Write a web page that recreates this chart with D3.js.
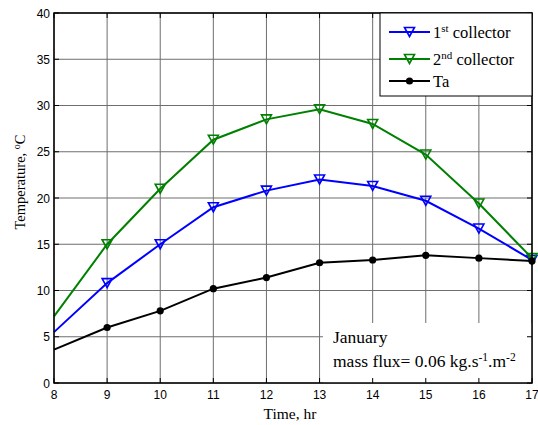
<!DOCTYPE html>
<html><head><meta charset="utf-8">
<script src="https://cdn.jsdelivr.net/npm/d3@7"></script>
<style>body{margin:0;background:#fff}svg{display:block}</style>
</head><body>
<script>
const hours = [8,9,10,11,12,13,14,15,16,17];
const collector1 = [5.5,10.8,15.0,19.0,20.8,22.0,21.3,19.7,16.7,13.3];
const collector2 = [7.2,15.0,21.0,26.3,28.5,29.6,28.0,24.7,19.4,13.5];
const ta = [3.6,6.0,7.8,10.2,11.4,13.0,13.3,13.8,13.5,13.2];
const xTicks = [8,9,10,11,12,13,14,15,16,17];
const yTicks = [0,5,10,15,20,25,30,35,40];

const W=538,H=425;
const m={l:54,r:6,t:13,b:42};
const svg=d3.select("body").append("svg").attr("width",W).attr("height",H);
const x=d3.scaleLinear().domain([8,17]).range([m.l,W-m.r]);
const y=d3.scaleLinear().domain([0,40]).range([H-m.b,m.t]);
const x0=x(8),x1=x(17),y0=y(0),y1=y(40);

svg.append("rect").attr("x",x0).attr("y",y1).attr("width",x1-x0).attr("height",y0-y1).attr("fill","#fff");
const grid=svg.append("g").attr("stroke","#6e6e6e").attr("stroke-width",1);
xTicks.forEach(t=>grid.append("line").attr("x1",x(t)).attr("x2",x(t)).attr("y1",y0).attr("y2",y1));
yTicks.forEach(t=>grid.append("line").attr("x1",x0).attr("x2",x1).attr("y1",y(t)).attr("y2",y(t)));

// annotation box (white, covers grid)
svg.append("rect").attr("x",323).attr("y",323).attr("width",x1-323).attr("height",y0-323).attr("fill","#fff");

const series=[
 {name:"1st",vals:collector1,color:"#0000ff",marker:"tri"},
 {name:"2nd",vals:collector2,color:"#008000",marker:"tri"},
 {name:"Ta",vals:ta,color:"#000",marker:"dot"}
];
const line=d3.line().x((d,i)=>x(hours[i])).y(d=>y(d));
const tri=(g,cx,cy,c)=>g.append("path").attr("d",`M${cx-5},${cy-4.5}L${cx+5},${cy-4.5}L${cx},${cy+4.5}Z`).attr("fill","none").attr("stroke",c).attr("stroke-width",1.6);
const dot=(g,cx,cy,c)=>g.append("circle").attr("cx",cx).attr("cy",cy).attr("r",3.6).attr("fill",c);
series.forEach(s=>{
  svg.append("path").attr("d",line(s.vals)).attr("fill","none").attr("stroke",s.color).attr("stroke-width",2);
  const g=svg.append("g");
  s.vals.forEach((v,i)=>{ if(i===0) return;
    if(s.marker==="tri") tri(g,x(hours[i]),y(v),s.color); else dot(g,x(hours[i]),y(v),s.color);});
});

// axes box and ticks
const ax=svg.append("g").attr("stroke","#000");
ax.append("rect").attr("x",x0).attr("y",y1).attr("width",x1-x0).attr("height",y0-y1).attr("fill","none").attr("stroke-width",1.5);
xTicks.forEach(t=>{ax.append("line").attr("x1",x(t)).attr("x2",x(t)).attr("y1",y0).attr("y2",y0-5);
  ax.append("line").attr("x1",x(t)).attr("x2",x(t)).attr("y1",y1).attr("y2",y1+5);});
yTicks.forEach(t=>{ax.append("line").attr("x1",x0).attr("x2",x0+5).attr("y1",y(t)).attr("y2",y(t));
  ax.append("line").attr("x1",x1).attr("x2",x1-5).attr("y1",y(t)).attr("y2",y(t));});

const tf="Liberation Sans, Arial, sans-serif";
svg.append("g").selectAll("text").data(xTicks).join("text").attr("x",d=>x(d)).attr("y",y0+15.5)
  .attr("text-anchor","middle").attr("font-family",tf).attr("font-size",12).text(d=>d);
svg.append("g").selectAll("text").data(yTicks).join("text").attr("x",x0-4).attr("y",d=>y(d)+4.5)
  .attr("text-anchor","end").attr("font-family",tf).attr("font-size",12).text(d=>d);

const sf="Liberation Serif, Times New Roman, serif";
svg.append("text").attr("x",290).attr("y",419).attr("text-anchor","middle").attr("font-family",sf).attr("font-size",15.5).text("Time, hr");
const yl=svg.append("text").attr("transform",`translate(25,182) rotate(-90)`).attr("text-anchor","middle").attr("font-family",sf).attr("font-size",14.5);
yl.append("tspan").text("Temperature, ");
yl.append("tspan").attr("dy",-5.5).attr("font-size",10).text("o");
yl.append("tspan").attr("dy",5.5).text("C");

// annotation
svg.append("text").attr("x",333).attr("y",343).attr("font-family",sf).attr("font-size",17.5).text("January");
const mf=svg.append("text").attr("x",333).attr("y",367).attr("font-family",sf).attr("font-size",17.5);
mf.append("tspan").text("mass flux= 0.06 kg.s");
mf.append("tspan").attr("dy",-6.5).attr("font-size",11.5).text("-1");
mf.append("tspan").attr("dy",6.5).text(".m");
mf.append("tspan").attr("dy",-6.5).attr("font-size",11.5).text("-2");

// legend
const lg=svg.append("g");
lg.append("rect").attr("x",380).attr("y",y1).attr("width",x1-380).attr("height",96-y1).attr("fill","#fff").attr("stroke","#000").attr("stroke-width",1);
const rows=[{y:32,sup:"st"},{y:59,sup:"nd"},{y:81}];
series.forEach((s,i)=>{
  const ry=rows[i].y;
  lg.append("line").attr("x1",389).attr("x2",430).attr("y1",ry).attr("y2",ry).attr("stroke",s.color).attr("stroke-width",2);
  if(s.marker==="tri") tri(lg,409.5,ry,s.color); else dot(lg,409.5,ry,s.color);
  const t=lg.append("text").attr("x",433).attr("y",ry+5.5).attr("font-family",sf).attr("font-size",16.5);
  if(i<2){t.append("tspan").text(i===0?"1":"2");t.append("tspan").attr("dy",-6).attr("font-size",11).text(rows[i].sup);
    t.append("tspan").attr("dy",6).text(" collector");}
  else t.text("Ta");
});
</script>
</body></html>
